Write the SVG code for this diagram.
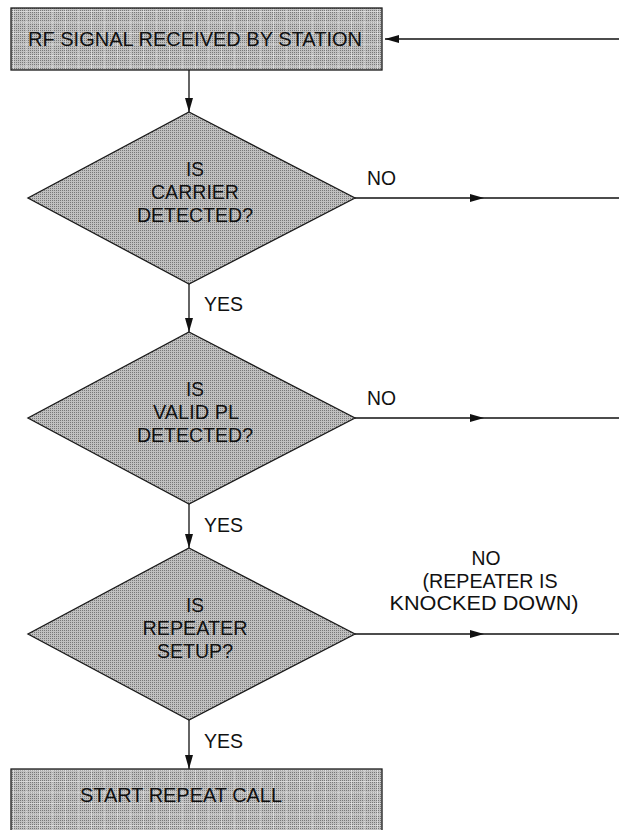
<svg xmlns="http://www.w3.org/2000/svg" width="619" height="830" viewBox="0 0 619 830">
  <style>
    .shape { fill: url(#screen); stroke: #1a1a1a; stroke-width: 1.3; }
    .grid { fill: url(#grid); stroke: none; }
    .lbl { font-family: "Liberation Sans", Arial, Helvetica, sans-serif; font-size: 21px; fill: #111; }
    .mid { text-anchor: middle; }
    .line { stroke: #111; stroke-width: 1.3; fill: none; }
  </style>
  <defs>
    <pattern id="screen" patternUnits="userSpaceOnUse" width="2" height="2">
      <rect width="2" height="2" fill="#c0c0c0"/>
      <rect width="1" height="1" fill="#787878"/>
    </pattern>
    <pattern id="grid" patternUnits="userSpaceOnUse" width="13" height="11">
      <rect x="0" y="0" width="13" height="1" fill="#ffffff" opacity="0.35"/>
      <rect x="0" y="0" width="1" height="11" fill="#ffffff" opacity="0.35"/>
    </pattern>
    <marker id="ah" viewBox="0 0 14 8" refX="14" refY="4" markerWidth="14" markerHeight="8" markerUnits="userSpaceOnUse" orient="auto">
      <path d="M0,0 L14,4 L0,8 Z" fill="#111"/>
    </marker>
  </defs>
  <rect width="619" height="830" fill="#ffffff"/>

  <g id="connectors">
    <line class="line" x1="619" y1="39" x2="385" y2="39" marker-end="url(#ah)"/>
    <line class="line" x1="189" y1="70" x2="189" y2="112" marker-end="url(#ah)"/>
    <path class="line" d="M355,198 L484,198 L619,198" marker-mid="url(#ah)"/>
    <line class="line" x1="189" y1="284" x2="189" y2="332" marker-end="url(#ah)"/>
    <path class="line" d="M355,418 L484,418 L619,418" marker-mid="url(#ah)"/>
    <line class="line" x1="189" y1="504" x2="189" y2="548" marker-end="url(#ah)"/>
    <path class="line" d="M355,634 L484,634 L619,634" marker-mid="url(#ah)"/>
    <line class="line" x1="189" y1="720" x2="189" y2="769" marker-end="url(#ah)"/>
    <text class="lbl" x="367" y="185" textLength="29" lengthAdjust="spacingAndGlyphs">NO</text>
    <text class="lbl" x="204" y="311" textLength="39" lengthAdjust="spacingAndGlyphs">YES</text>
    <text class="lbl" x="367" y="405" textLength="29" lengthAdjust="spacingAndGlyphs">NO</text>
    <text class="lbl" x="204" y="532" textLength="39" lengthAdjust="spacingAndGlyphs">YES</text>
    <text class="lbl mid" x="486" y="565" textLength="29" lengthAdjust="spacingAndGlyphs">NO</text>
    <text class="lbl mid" x="490" y="588" textLength="135" lengthAdjust="spacingAndGlyphs">(REPEATER IS</text>
    <text class="lbl mid" x="484" y="610" textLength="189" lengthAdjust="spacingAndGlyphs">KNOCKED DOWN)</text>
    <text class="lbl" x="204" y="748" textLength="39" lengthAdjust="spacingAndGlyphs">YES</text>
  </g>

  <g id="node-rf-signal">
    <rect class="shape" x="11" y="8" width="371" height="62"/>
    <rect class="grid" x="12" y="9" width="369" height="60"/>
    <text class="lbl mid" x="195" y="46" textLength="334" lengthAdjust="spacingAndGlyphs">RF SIGNAL RECEIVED BY STATION</text>
  </g>

  <g id="node-carrier">
    <polygon class="shape" points="189,112 355,198 189,284 28,198"/>
    <text class="lbl mid" x="195" y="176" textLength="18" lengthAdjust="spacingAndGlyphs">IS</text>
    <text class="lbl mid" x="195" y="199" textLength="88" lengthAdjust="spacingAndGlyphs">CARRIER</text>
    <text class="lbl mid" x="195" y="222" textLength="116" lengthAdjust="spacingAndGlyphs">DETECTED?</text>
  </g>

  <g id="node-valid-pl">
    <polygon class="shape" points="189,332 355,418 189,504 28,418"/>
    <text class="lbl mid" x="195" y="396" textLength="18" lengthAdjust="spacingAndGlyphs">IS</text>
    <text class="lbl mid" x="196" y="419" textLength="86" lengthAdjust="spacingAndGlyphs">VALID PL</text>
    <text class="lbl mid" x="195" y="442" textLength="116" lengthAdjust="spacingAndGlyphs">DETECTED?</text>
  </g>

  <g id="node-repeater-setup">
    <polygon class="shape" points="189,548 355,634 189,720 28,634"/>
    <text class="lbl mid" x="195" y="612" textLength="18" lengthAdjust="spacingAndGlyphs">IS</text>
    <text class="lbl mid" x="195" y="635" textLength="105" lengthAdjust="spacingAndGlyphs">REPEATER</text>
    <text class="lbl mid" x="195" y="658" textLength="76" lengthAdjust="spacingAndGlyphs">SETUP?</text>
  </g>

  <g id="node-start-repeat">
    <rect class="shape" x="11" y="769" width="371" height="63"/>
    <rect class="grid" x="12" y="770" width="369" height="60"/>
    <text class="lbl mid" x="181" y="802" textLength="202" lengthAdjust="spacingAndGlyphs">START REPEAT CALL</text>
  </g>
</svg>
